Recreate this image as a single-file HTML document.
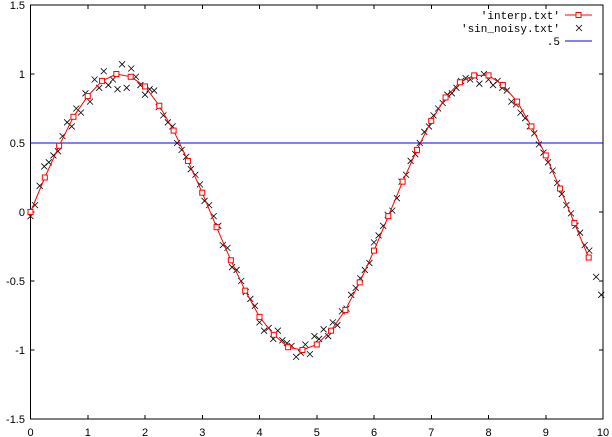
<!DOCTYPE html>
<html><head><meta charset="utf-8"><style>
html,body{margin:0;padding:0;background:#fff;}
svg{display:block;}
text{font-family:"Liberation Sans",sans-serif;font-size:11px;fill:#000;}
.mono{font-family:"Liberation Mono",monospace;font-size:11px;}
#grid line,#grid rect{shape-rendering:crispEdges;}
</style></head><body>
<svg id="chart" width="612" height="437">
<g id="grid"></g><g id="marks"></g><g id="legend"></g>
</svg>
<script>
const xTicks=[0,1,2,3,4,5,6,7,8,9,10];
const yTicks=[-1.5,-1,-0.5,0,0.5,1,1.5];
const yTickLabels=["-1.5","-1","-0.5","0","0.5","1","1.5"];
const interpX=[0,0.25,0.5,0.75,1,1.25,1.5,1.75,2,2.25,2.5,2.75,3,3.25,3.5,3.75,4,4.25,4.5,4.75,5,5.25,5.5,5.75,6,6.25,6.5,6.75,7,7.25,7.5,7.75,8,8.25,8.5,8.75,9,9.25,9.5,9.75];
const interpY=[0,0.25,0.48,0.69,0.84,0.95,1.0,0.98,0.91,0.77,0.59,0.37,0.14,-0.11,-0.35,-0.57,-0.76,-0.89,-0.98,-1.0,-0.96,-0.86,-0.71,-0.51,-0.28,-0.03,0.22,0.45,0.66,0.83,0.94,0.99,0.99,0.92,0.80,0.62,0.41,0.17,-0.08,-0.33];
const noisyX=[0,0.08,0.16,0.24,0.32,0.4,0.48,0.56,0.64,0.72,0.8,0.88,0.96,1.04,1.12,1.2,1.28,1.36,1.44,1.52,1.6,1.68,1.76,1.84,1.92,2.0,2.08,2.16,2.24,2.32,2.4,2.48,2.56,2.64,2.72,2.8,2.88,2.96,3.04,3.12,3.2,3.28,3.36,3.44,3.52,3.6,3.68,3.76,3.84,3.92,4.0,4.08,4.16,4.24,4.32,4.4,4.48,4.56,4.64,4.72,4.8,4.88,4.96,5.04,5.12,5.2,5.28,5.36,5.44,5.52,5.6,5.68,5.76,5.84,5.92,6.0,6.08,6.16,6.24,6.32,6.4,6.48,6.56,6.64,6.72,6.8,6.88,6.96,7.04,7.12,7.2,7.28,7.36,7.44,7.52,7.6,7.68,7.76,7.84,7.92,8.0,8.08,8.16,8.24,8.32,8.4,8.48,8.56,8.64,8.72,8.8,8.88,8.96,9.04,9.12,9.2,9.28,9.36,9.44,9.52,9.6,9.68,9.76,9.88,9.97];
const noisyY=[-0.03,0.05,0.19,0.33,0.36,0.41,0.44,0.55,0.65,0.62,0.75,0.72,0.86,0.80,0.96,0.90,1.02,0.92,0.96,0.89,1.07,0.90,1.04,0.98,0.92,0.85,0.89,0.88,0.76,0.70,0.65,0.62,0.50,0.45,0.40,0.31,0.27,0.20,0.08,0.05,-0.03,-0.10,-0.24,-0.26,-0.40,-0.42,-0.50,-0.58,-0.63,-0.68,-0.80,-0.86,-0.84,-0.92,-0.86,-0.93,-0.95,-0.97,-1.05,-1.02,-0.96,-1.03,-0.90,-0.92,-0.85,-0.90,-0.80,-0.82,-0.72,-0.70,-0.60,-0.55,-0.48,-0.42,-0.37,-0.22,-0.17,-0.10,-0.02,0.01,0.10,0.22,0.27,0.37,0.42,0.50,0.58,0.62,0.70,0.75,0.79,0.85,0.86,0.90,0.95,0.97,0.96,0.98,0.93,1.00,0.96,0.92,0.95,0.90,0.88,0.80,0.78,0.72,0.68,0.62,0.57,0.49,0.43,0.36,0.30,0.21,0.13,0.05,-0.01,-0.10,-0.15,-0.24,-0.28,-0.47,-0.60];
const X0=30.5,X1=603,Y0=419,Y1=5;
const sx=v=>X0+(v-0)/10*(X1-X0);
const sy=v=>Y0-(v+1.5)/3*(Y0-Y1);
const NS="http://www.w3.org/2000/svg";
function mk(t,a,p){const e=document.createElementNS(NS,t);for(const k in a)e.setAttribute(k,a[k]);p.appendChild(e);return e;}
const grid=document.getElementById('grid'),marks=document.getElementById('marks'),leg=document.getElementById('legend');
xTicks.forEach(v=>{const x=sx(v);
const l=mk('line',{x1:x,x2:x,y1:Y0,y2:Y0-4,stroke:'#000'},grid);


const l2=mk('line',{x1:x,x2:x,y1:Y1,y2:Y1+4,stroke:'#000'},grid);


const t=mk('text',{x:x,y:436,'text-anchor':'middle'},grid);t.textContent=String(v);

});
yTicks.forEach((v,i)=>{const y=sy(v);
const l=mk('line',{x1:X0,x2:X0+4,y1:y,y2:y,stroke:'#000'},grid);


const l2=mk('line',{x1:X1,x2:X1-4,y1:y,y2:y,stroke:'#000'},grid);


const t=mk('text',{x:25,y:y+4,'text-anchor':'end'},grid);t.textContent=yTickLabels[i];

});
const fr=mk('rect',{x:X0,y:Y1,width:X1-X0,height:Y0-Y1,fill:'none',stroke:'#000','stroke-width':1},grid);


const hl=mk('line',{x1:X0,x2:X1,y1:sy(0.5),y2:sy(0.5),stroke:'#0000ff','shape-rendering':'crispEdges'},marks);


noisyX.forEach((xv,i)=>{const x=sx(xv),y=sy(noisyY[i]);
const p=mk('path',{d:`M${x-3},${y-3}L${x+3},${y+3}M${x-3},${y+3}L${x+3},${y-3}`,stroke:'#000','stroke-width':0.8},marks);

});
const pl=mk('polyline',{points:interpX.map((xv,i)=>sx(xv)+','+sy(interpY[i])).join(' '),fill:'none',stroke:'#ff0000'},marks);


interpX.forEach((xv,i)=>{const r=mk('rect',{x:sx(xv)-2.5,y:sy(interpY[i])-2.5,width:5,height:5,fill:'#fff',stroke:'#ff0000'},marks);

});
const legItems=["'interp.txt'","'sin_noisy.txt'",".5"];
legItems.forEach((s,i)=>{const y=15+i*13;
const t=mk('text',{x:560,y:y+4,'text-anchor':'end',class:'mono'},leg);t.textContent=s;

});
const a=mk('line',{x1:565,x2:592,y1:15,y2:15,stroke:'#ff0000'},leg);


const b=mk('rect',{x:576,y:12.5,width:5,height:5,fill:'#fff',stroke:'#ff0000'},leg);


const c=mk('path',{d:'M576,25L582,31M576,31L582,25',stroke:'#000','stroke-width':0.8},leg);


const d=mk('line',{x1:565,x2:592,y1:41,y2:41,stroke:'#0000ff'},leg);


</script>
</body></html>
